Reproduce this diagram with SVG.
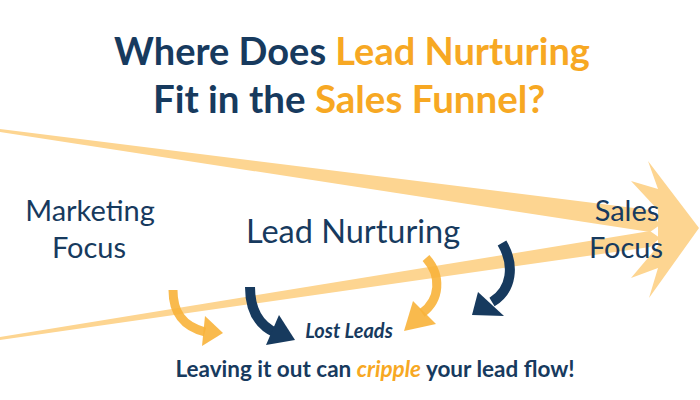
<svg xmlns="http://www.w3.org/2000/svg" width="700" height="400" viewBox="0 0 700 400">
<style>
.navy{fill:#173a5e}
.orange{fill:#f7a823}
.t{font-family:Lato,"Liberation Sans",sans-serif}
.title{font-size:38px;font-weight:bold}
.lbl{font-size:29px;fill:#173a5e}
.funnel{fill:#fdd591}
.oarr{stroke:#f8b23a;fill:none;stroke-width:9;opacity:0.9}
.oh{fill:#f8b23a;opacity:0.9}
.narr{stroke:#173a5e;fill:none;stroke-width:10}
.nh{fill:#173a5e}
</style>
<rect width="700" height="400" fill="#ffffff"/>
<g id="funnel">
<path class="funnel" d="M0,129 L650,210 L660,225 L650,232 L0,132 Z"/>
<path class="funnel" d="M0,337 L650,231 L660,238 L650,247 L0,340 Z"/>
<path class="funnel" d="M648,161 L699,228 L649,298 L658,268 L631,278 L658,246 L658,210 L631,181 L658,189 Z"/>
</g>
<g id="title" class="t title">
<text x="352" y="65" text-anchor="middle"><tspan class="navy">Where Does </tspan><tspan class="orange">Lead Nurturing</tspan></text>
<text x="349" y="113" text-anchor="middle" font-size="38.5"><tspan class="navy">Fit in the </tspan><tspan class="orange">Sales Funnel?</tspan></text>
</g>
<g id="marketing" class="t lbl">
<text x="90" y="221" text-anchor="middle">Marketing</text>
<text x="89" y="258" text-anchor="middle">Focus</text>
</g>
<g id="lead-nurturing" class="t">
<text x="353" y="243" text-anchor="middle" font-size="32.5" fill="#173a5e">Lead Nurturing</text>
</g>
<g id="sales" class="t lbl">
<text x="627" y="221" text-anchor="middle">Sales</text>
<text x="626" y="258" text-anchor="middle">Focus</text>
</g>
<g id="connectors">
<path class="oarr" d="M173,290 C173,312 182,326 205,332"/>
<polygon class="oh" points="205,316 223,333 202,346"/>
<path class="narr" d="M250,287 C250,310 258,325 276,333"/>
<polygon class="nh" points="279,315 295,340 266,345"/>
<path class="oarr" d="M426,258 C442,276 440,300 422,313"/>
<polygon class="oh" points="413,301 436,324 404,331"/>
<path class="narr" d="M502,243 C515,265 512,290 492,302"/>
<polygon class="nh" points="478,292 472,315 504,316"/>
</g>
<g id="lost-leads" class="t">
<text x="349" y="338" text-anchor="middle" font-size="20" font-weight="bold" font-style="italic" fill="#173a5e">Lost Leads</text>
</g>
<g id="tagline" class="t">
<text x="375" y="377" text-anchor="middle" font-size="22.5" font-weight="bold" fill="#173a5e">Leaving it out can <tspan class="orange" font-style="italic">cripple</tspan> your lead flow!</text>
</g>
</svg>
